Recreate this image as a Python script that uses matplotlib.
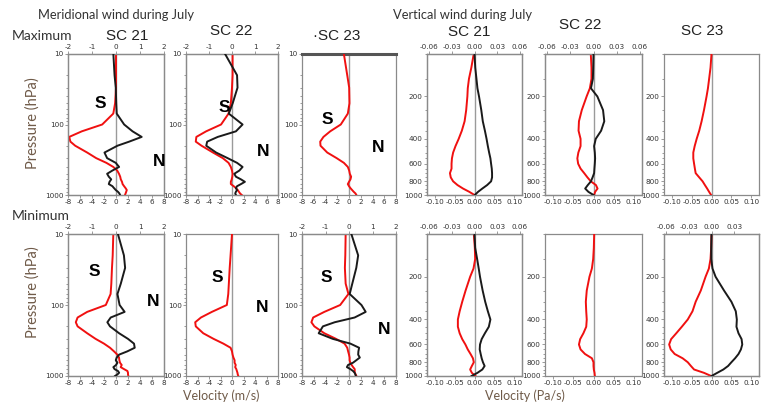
import numpy as np
import matplotlib
matplotlib.use("Agg")
import matplotlib.pyplot as plt
from matplotlib.ticker import FixedLocator, NullFormatter, FixedFormatter

# ---------------- data ----------------
P_MER = [10, 20, 30, 50, 70, 100, 125, 150, 175, 200, 250, 300, 350, 400, 450,
         500, 550, 600, 650, 700, 750, 800, 850, 900, 950, 1000]
P_VER = [100, 125, 150, 175, 200, 250, 300, 350, 400, 450, 500, 550, 600, 650,
         700, 750, 800, 850, 900, 950, 1000]

# Meridional wind (m/s), red on bottom axis (-8..8), black on top axis (-2..2)
MER_MAX_SC21_RED = [0.0, 0.0, 0.0, -0.15, -0.45, -2.3, -5.7, -7.8, -7.6, -6.8, -4.8, -3.3, -1.6,
                    -0.45, 0.2, 0.5, 0.7, 0.8, 1.0, 1.1, 1.35, 1.6, 1.8, 1.7, 1.6, 1.5]
MER_MAX_SC21_BLACK = [-0.11, -0.06, -0.01, 0.01, 0.03, 0.34, 0.69, 1.07, 0.55, 0.06, -0.48, -0.37,
                      -0.01, 0.13, -0.15, -0.37, -0.3, -0.2, -0.27, -0.3, -0.15, -0.08, -0.01,
                      0.08, 0.14, 0.17]
MER_MAX_SC22_RED = [0.1, 0.1, 0.0, -0.2, -0.6, -1.9, -4.5, -6.2, -6.3, -5.3, -3.3, -1.6, -0.6,
                    -0.2, 0.0, 0.1, 0.05, -0.05, -0.2, -0.2, 0.3, 0.7, 1.0, 1.2, 1.4, 1.7]
MER_MAX_SC22_BLACK = [-0.3, 0.22, 0.24, 0.03, -0.14, 0.46, 0.17, -0.62, -1.08, -1.12, -0.69, -0.19,
                      0.22, 0.46, 0.32, 0.1, 0.17, 0.39, 0.56, 0.39, 0.22, 0.17, 0.22, 0.17,
                      0.14, 0.17]
MER_MAX_SC23_RED = [-0.87, -0.3, 0.03, 0.08, -0.2, -1.4, -3.2, -4.35, -4.9, -4.85, -3.7, -2.1,
                    -0.87, -0.2, 0.03, 0.14, 0.36, 0.25, 0.0, -0.2, 0.0, 0.25, 0.53, 0.8, 1.1, 1.26]
MER_MIN_SC21_RED = [-0.45, -0.55, -0.67, -0.78, -0.9, -1.7, -4.8, -6.4, -6.7, -6.4, -4.8, -3.4,
                    -2.0, -1.0, -0.33, 0.22, 0.5, 0.56, 0.67, 0.95, 0.78, 1.34, 1.9, 2.0, 2.0, 2.06]
MER_MIN_SC21_BLACK = [0.08, 0.33, 0.38, 0.2, 0.06, 0.15, 0.36, -0.22, -0.36, -0.25, 0.13, 0.5,
                      0.75, 0.78, 0.47, 0.13, 0.03, -0.01, 0.06, 0.0, -0.11, -0.06, 0.08, 0.13,
                      0.06, -0.04]
MER_MIN_SC22_RED = [0.0, -0.25, -0.4, -0.55, -0.65, -0.9, -3.5, -5.4, -6.4, -6.3, -5.0, -3.2, -1.5,
                    -0.25, 0.0, 0.1, 0.25, 0.45, 0.45, 0.65, 0.55, 0.75, 0.85, 0.95, 1.0, 1.1]
MER_MIN_SC23_RED = [-0.57, -0.63, -0.7, -0.57, -0.1, -1.5, -4.2, -6.1, -6.4, -5.9, -4.2, -2.2,
                    -0.75, -0.3, -0.15, 0.0, 0.1, 0.1, 0.23, 0.45, 0.7, 0.97, 0.97, 0.97, 1.14, 1.26]
MER_MIN_SC23_BLACK = [0.1, 0.39, 0.31, 0.14, 0.03, 0.53, 0.71, 0.24, -0.61, -1.11, -1.29, -0.69,
                      0.06, 0.43, 0.4, 0.39, 0.46, 0.31, 0.17, -0.04, -0.09, 0.06, 0.17, 0.24,
                      0.27, 0.29]

# Vertical wind (Pa/s), red on bottom axis (-0.12..0.12), black on top axis (-0.06..0.06)
VER_MAX_SC21_RED = [-0.002, -0.008, -0.014, -0.017, -0.018, -0.021, -0.025, -0.032, -0.04, -0.048,
                    -0.054, -0.057, -0.058, -0.058, -0.062, -0.06, -0.054, -0.043, -0.029,
                    -0.013, 0.0]
VER_MAX_SC21_BLACK = [0.0, 0.001, 0.0026, 0.0039, 0.006, 0.009, 0.011, 0.0138, 0.016, 0.0177,
                      0.0194, 0.0211, 0.022, 0.0229, 0.0233, 0.0233, 0.022, 0.0168, 0.0104,
                      0.0047, 0.0004]
VER_MAX_SC22_RED = [-0.0067, -0.005, -0.005, -0.009, -0.017, -0.029, -0.036, -0.037, -0.032,
                    -0.032, -0.0375, -0.04, -0.038, -0.032, -0.023, -0.015, -0.0067, 0.006,
                    0.01, 0.004, 0.0017]
VER_MAX_SC22_BLACK = [0.0, -0.0004, -0.0008, -0.0033, 0.005, 0.0124, 0.014, 0.0099, 0.0029,
                      0.0008, 0.0017, 0.0021, 0.0017, 0.0012, 0.0008, -0.0012, -0.0033, -0.0074,
                      -0.0108, -0.0066, 0.0]
VER_MAX_SC23_RED = [0.0, -0.0025, -0.006, -0.009, -0.0125, -0.019, -0.025, -0.031, -0.0375,
                    -0.0425, -0.046, -0.046, -0.044, -0.042, -0.04, -0.031, -0.0225, -0.0167,
                    -0.011, -0.006, -0.001]
VER_MIN_SC21_RED = [-0.0017, 0.0008, 0.0017, -0.0025, -0.011, -0.0225, -0.031, -0.0375, -0.042,
                    -0.042, -0.0375, -0.031, -0.023, -0.017, -0.01, -0.004, -0.0017, -0.0067,
                    -0.011, -0.0067, 0.0025]
VER_MIN_SC21_BLACK = [0.0, 0.0009, 0.0035, 0.0056, 0.0073, 0.0108, 0.0142, 0.0177, 0.0211,
                      0.019, 0.0138, 0.0095, 0.0073, 0.0069, 0.0082, 0.0095, 0.0112, 0.0134,
                      0.0104, 0.0039, -0.0039]
VER_MIN_SC22_RED = [0.0017, 0.0008, -0.0008, -0.004, -0.01, -0.0167, -0.019, -0.018, -0.0167,
                    -0.018, -0.025, -0.033, -0.036, -0.032, -0.021, -0.004, 0.0, 0.0, 0.0008,
                    0.0025, 0.0033]
VER_MIN_SC23_RED = [0.0, -0.0008, -0.0025, -0.0066, -0.015, -0.027, -0.04, -0.048, -0.06, -0.075,
                    -0.089, -0.102, -0.107, -0.103, -0.093, -0.073, -0.06, -0.052, -0.044,
                    -0.019, -0.0008]
VER_MIN_SC23_BLACK = [0.0, -0.0004, -0.0004, 0.0013, 0.0054, 0.0166, 0.0264, 0.0322, 0.0336,
                      0.0331, 0.0358, 0.0399, 0.0408, 0.039, 0.0358, 0.0313, 0.0264, 0.022,
                      0.0157, 0.0076, 0.0]

MER_XTICKS = [-8, -6, -4, -2, 0, 2, 4, 6, 8]
MER_TOPTICKS = [-2, -1, 0, 1, 2]
VER_XTICKS = [-0.10, -0.05, 0.00, 0.05, 0.10]
VER_TOPTICKS = [-0.06, -0.03, 0.00, 0.03, 0.06]
VER_TOPTICKS_EDGE = [-0.06, -0.03, 0.00, 0.03]
MER_YTICKS = [10, 100, 1000]
VER_YTICKS = [200, 400, 600, 800, 1000]

# ---------------- figure ----------------
W, H = 761, 404
fig = plt.figure(figsize=(W / 100, H / 100), dpi=100)
fig.patch.set_facecolor("white")

RED = "#f01010"
BLK = "#1a1a1a"
SPINE = "#8a8a8a"
TXT = "#333333"
BROWN = "#6f5a48"
TICKFS = 5.2


def rect(x0, x1, y0, y1):
    return [x0 / W, 1 - y1 / H, (x1 - x0) / W, (y1 - y0) / H]


def style_axes(ax):
    for s in ax.spines.values():
        s.set_color(SPINE)
        s.set_linewidth(0.9)
    ax.tick_params(which="both", direction="out", colors=SPINE, labelcolor=TXT,
                   labelsize=TICKFS, width=0.6, pad=1)
    ax.tick_params(which="major", length=2.2)
    ax.tick_params(which="minor", length=1.3)


def panel(r, kind, red, black=None, top="normal", topticks=None):
    ax = fig.add_axes(r)
    style_axes(ax)
    ax.set_yscale("log")
    if kind == "mer":
        P = P_MER
        ax.set_ylim(1000, 10)
        ax.set_xlim(-8, 8)
        ax.set_xticks(MER_XTICKS)
        ax.set_xticklabels([str(v) for v in MER_XTICKS])
        ax.yaxis.set_major_locator(FixedLocator(MER_YTICKS))
        ax.yaxis.set_major_formatter(FixedFormatter([str(v) for v in MER_YTICKS]))
        ax.yaxis.set_minor_locator(FixedLocator(
            [v * d for d in (10, 100) for v in range(2, 10)]))
        ax.yaxis.set_minor_formatter(NullFormatter())
        tlim = (-2, 2)
        tticks = MER_TOPTICKS if topticks is None else topticks
        tlabels = [str(v) for v in tticks]
    else:
        P = P_VER
        ax.set_ylim(1000, 100)
        ax.set_xlim(-0.12, 0.12)
        ax.set_xticks(VER_XTICKS)
        ax.set_xticklabels(["%.2f" % v for v in VER_XTICKS])
        ax.yaxis.set_major_locator(FixedLocator(VER_YTICKS))
        ax.yaxis.set_major_formatter(FixedFormatter([str(v) for v in VER_YTICKS]))
        ax.yaxis.set_minor_locator(FixedLocator(list(range(100, 1000, 50))))
        ax.yaxis.set_minor_formatter(NullFormatter())
        tlim = (-0.063, 0.063)
        tticks = VER_TOPTICKS if topticks is None else topticks
        tlabels = ["%.2f" % v for v in tticks]
    ax.axvline(0, color="#9a9a9a", lw=1.0, zorder=1)
    ax.plot(red, P, color=RED, lw=1.4, zorder=3)
    if black is not None:
        ax2 = ax.twiny()
        style_axes(ax2)
        ax2.set_xlim(*tlim)
        ax2.set_xticks(tticks)
        ax2.set_xticklabels(tlabels)
        ax2.plot(black, P, color=BLK, lw=1.4, zorder=4)
    else:
        if top == "thick":
            ax.spines["top"].set_linewidth(2.2)
            ax.spines["top"].set_color("#555555")
    return ax


# columns (pixel x ranges) and rows (pixel y ranges)
COLS = [(68, 164), (186, 278), (302, 396), (427, 522), (545, 642), (664, 759)]
ROW1 = (54, 195)
ROW2 = (234, 376)

panel(rect(*COLS[0], *ROW1), "mer", MER_MAX_SC21_RED, MER_MAX_SC21_BLACK)
panel(rect(*COLS[1], *ROW1), "mer", MER_MAX_SC22_RED, MER_MAX_SC22_BLACK)
panel(rect(*COLS[2], *ROW1), "mer", MER_MAX_SC23_RED, None, top="thick")
panel(rect(*COLS[3], *ROW1), "ver", VER_MAX_SC21_RED, VER_MAX_SC21_BLACK)
panel(rect(*COLS[4], *ROW1), "ver", VER_MAX_SC22_RED, VER_MAX_SC22_BLACK)
panel(rect(*COLS[5], *ROW1), "ver", VER_MAX_SC23_RED, None)

panel(rect(*COLS[0], *ROW2), "mer", MER_MIN_SC21_RED, MER_MIN_SC21_BLACK)
panel(rect(*COLS[1], *ROW2), "mer", MER_MIN_SC22_RED, None)
panel(rect(*COLS[2], *ROW2), "mer", MER_MIN_SC23_RED, MER_MIN_SC23_BLACK)
panel(rect(*COLS[3], *ROW2), "ver", VER_MIN_SC21_RED, VER_MIN_SC21_BLACK)
panel(rect(*COLS[4], *ROW2), "ver", VER_MIN_SC22_RED, None)
panel(rect(*COLS[5], *ROW2), "ver", VER_MIN_SC23_RED, VER_MIN_SC23_BLACK,
      topticks=VER_TOPTICKS_EDGE)


def ftext(x, y, s, **kw):
    fig.text(x / W, 1 - y / H, s, **kw)


HEAD = dict(family="Lato", color=TXT, va="center")
ftext(38, 15, "Meridional wind during July", fontsize=9.3, ha="left", **HEAD)
ftext(393, 15, "Vertical wind during July", fontsize=9.3, ha="left", **HEAD)
ftext(12, 36, "Maximum", fontsize=10, ha="left", **HEAD)
ftext(12, 216, "Minimum", fontsize=10, ha="left", **HEAD)

SC = dict(family="Liberation Sans", color="#222222", fontsize=11, ha="center", va="center")
ftext(127, 36, "SC 21", **SC)
ftext(231, 31, "SC 22", **SC)
ftext(337, 36, "\u00b7SC 23", **SC)
ftext(469, 32, "SC 21", **SC)
ftext(580, 25, "SC 22", **SC)
ftext(702, 31, "SC 23", **SC)

LAB = dict(family="Lato", color=BROWN, fontsize=10.5, ha="center", va="center")
ftext(33, 123, "Pressure (hPa)", rotation=90, **LAB)
ftext(33, 292, "Pressure (hPa)", rotation=90, **LAB)
ftext(221, 396, "Velocity (m/s)", fontsize=9, family="Lato", color=BROWN, ha="center", va="center")
ftext(525, 396, "Velocity (Pa/s)", fontsize=9, family="Lato", color=BROWN, ha="center", va="center")

SN = dict(family="Liberation Sans", fontweight="bold", color="black", fontsize=12.5,
          ha="center", va="center")
for (x, y, s) in [(100, 104, "S"), (159, 162, "N"), (224, 108, "S"), (263, 152, "N"),
                  (327, 120, "S"), (378, 148, "N"), (94, 272, "S"), (153, 301, "N"),
                  (217, 277, "S"), (262, 307, "N"), (326, 277, "S"), (384, 330, "N")]:
    ftext(x, y, s, **SN)

fig.savefig("out.png", dpi=100, facecolor="white")
